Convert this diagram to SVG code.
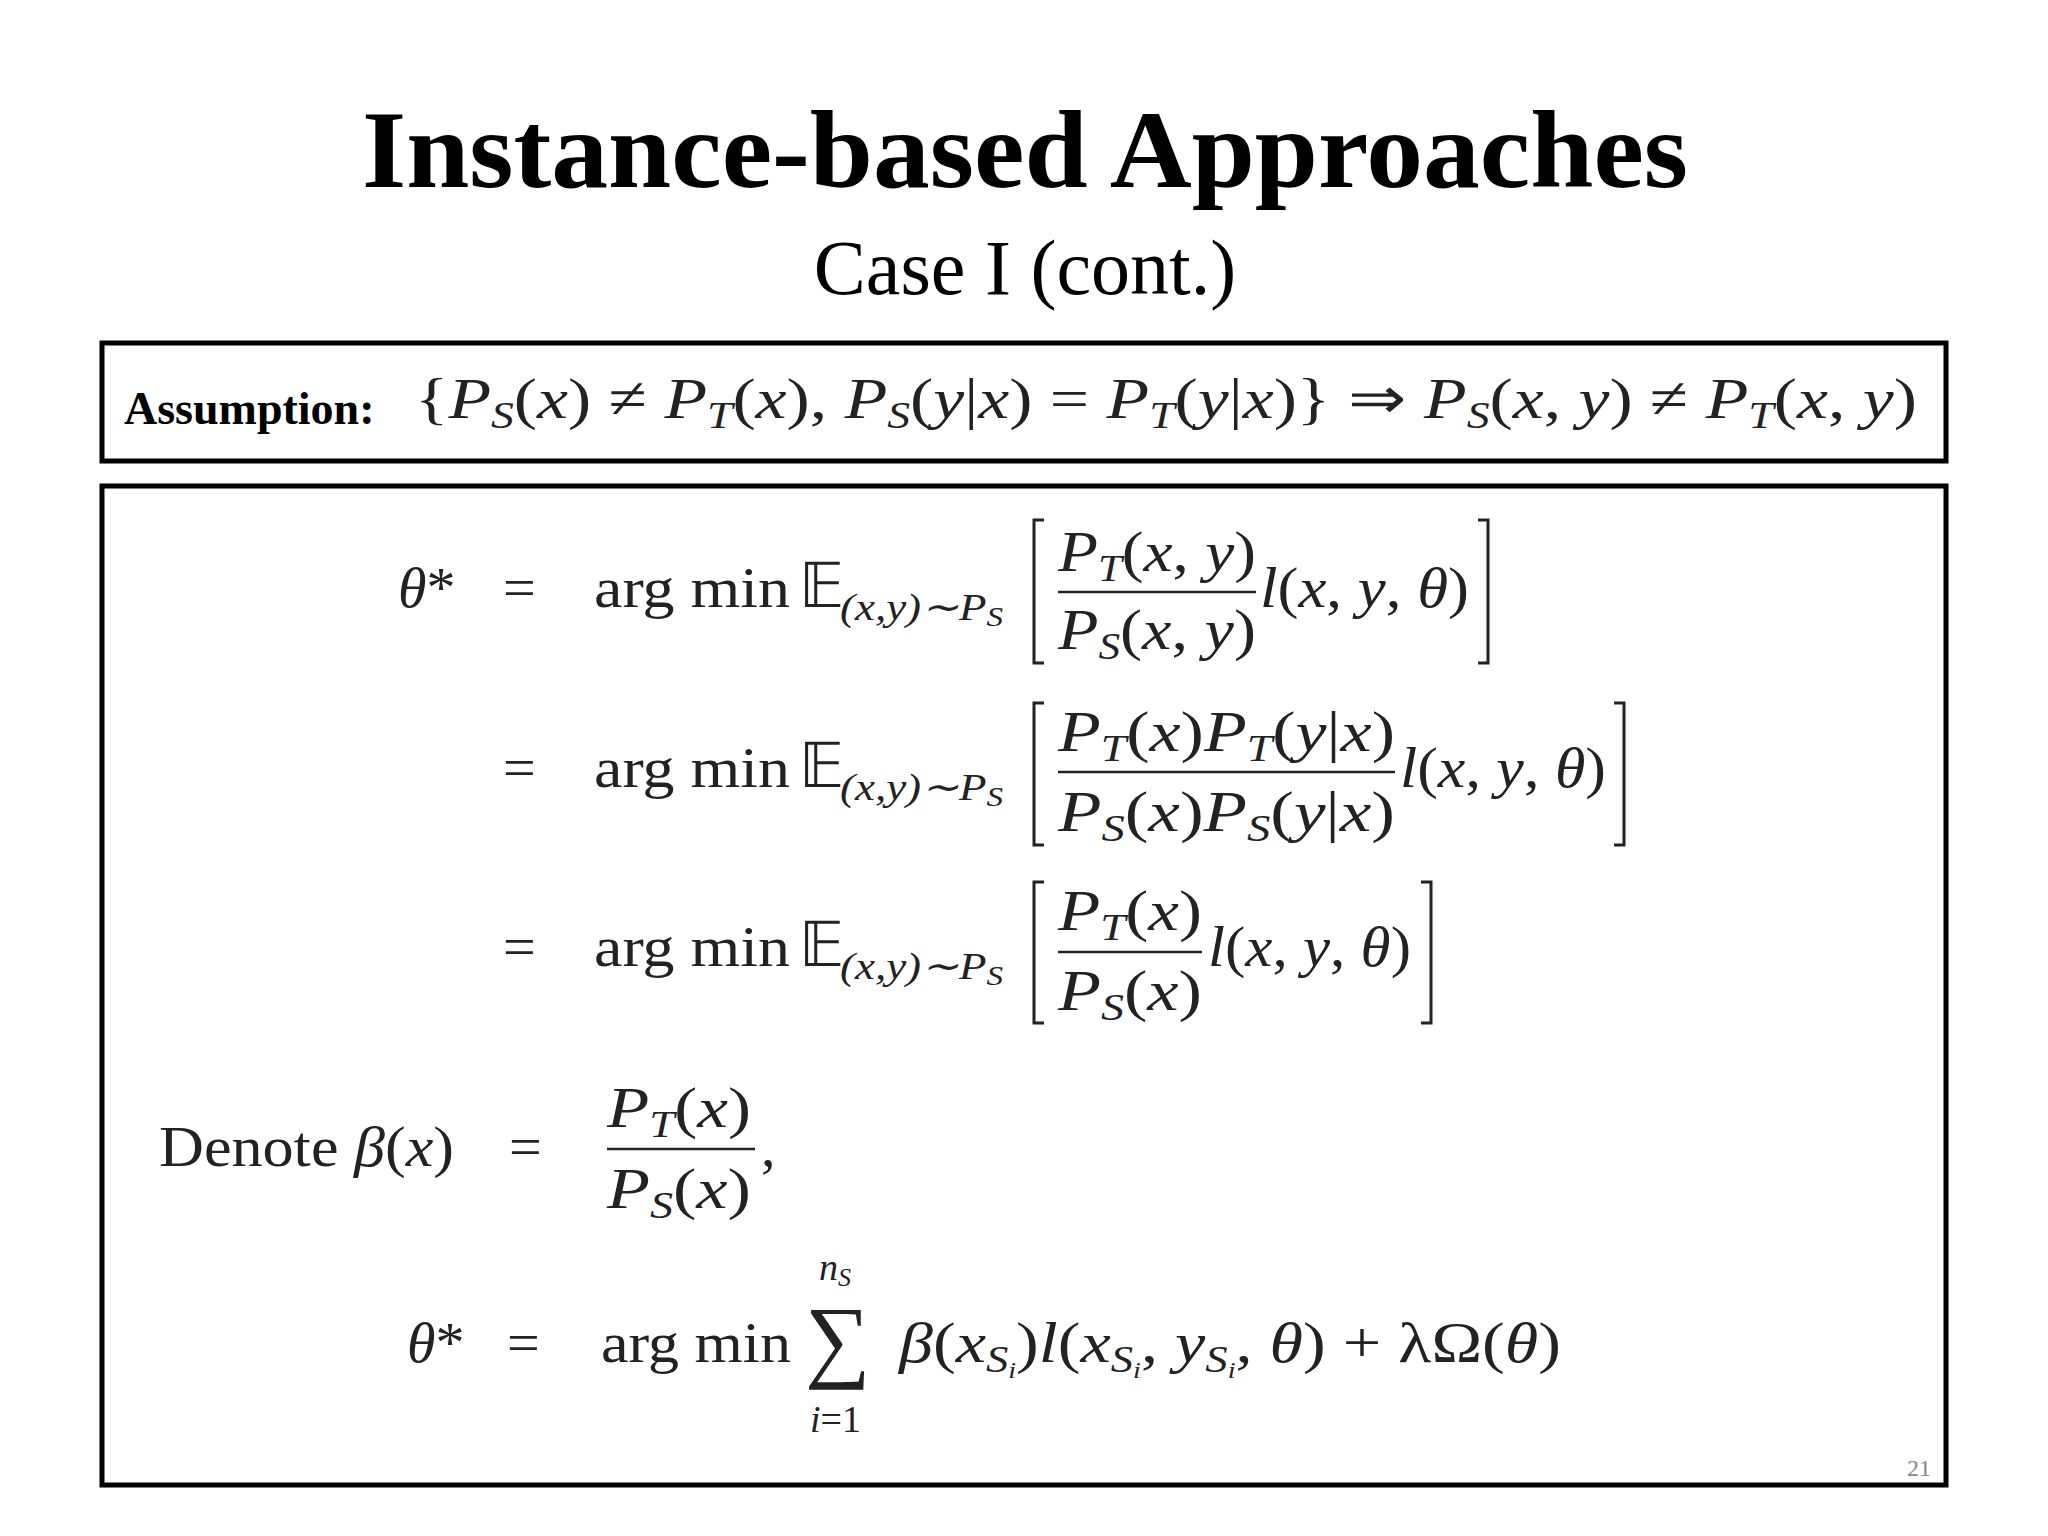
<svg xmlns="http://www.w3.org/2000/svg" width="2048" height="1536" viewBox="0 0 2048 1536">
<style>
.t{font-family:"Liberation Serif","Times New Roman",serif;fill:#000}
.m{font-family:"Liberation Serif","Times New Roman",serif;fill:#222;font-size:58px}
.i{font-style:italic}
.s{font-size:38px}
.box{fill:none;stroke:#000;stroke-width:5}
.ln{stroke:#222;stroke-width:2.5}
.br{fill:none;stroke:#222;stroke-width:3}
</style>
<rect width="2048" height="1536" fill="#fff"/>
<g id="title">
<text class="t" x="1025" y="187" text-anchor="middle" font-size="110" font-weight="bold" textLength="1326" lengthAdjust="spacingAndGlyphs">Instance-based Approaches</text>
<text class="t" x="1025" y="294" text-anchor="middle" font-size="78">Case I (cont.)</text>
</g>
<g id="assumption">
<rect class="box" x="102" y="343" width="1844" height="118"/>
<text class="t" x="124" y="424" font-size="46" font-weight="bold">Assumption:</text>
<text class="m" x="415" y="418" textLength="1502" lengthAdjust="spacingAndGlyphs">{<tspan class="i">P</tspan><tspan class="i s" dy="10">S</tspan><tspan dy="-10">(</tspan><tspan class="i">x</tspan>) ≠ <tspan class="i">P</tspan><tspan class="i s" dy="10">T</tspan><tspan dy="-10">(</tspan><tspan class="i">x</tspan>),  <tspan class="i">P</tspan><tspan class="i s" dy="10">S</tspan><tspan dy="-10">(</tspan><tspan class="i">y</tspan>|<tspan class="i">x</tspan>) = <tspan class="i">P</tspan><tspan class="i s" dy="10">T</tspan><tspan dy="-10">(</tspan><tspan class="i">y</tspan>|<tspan class="i">x</tspan>)} ⇒ <tspan class="i">P</tspan><tspan class="i s" dy="10">S</tspan><tspan dy="-10">(</tspan><tspan class="i">x</tspan>, <tspan class="i">y</tspan>) ≠ <tspan class="i">P</tspan><tspan class="i s" dy="10">T</tspan><tspan dy="-10">(</tspan><tspan class="i">x</tspan>, <tspan class="i">y</tspan>)</text>
</g>
<g id="derivation">
<rect class="box" x="102" y="486" width="1844" height="999"/>
<text class="m" x="398" y="607"><tspan class="i">θ</tspan>*</text>
<text class="m" x="503" y="607">=</text>
<text class="m" x="594" y="607" textLength="196" lengthAdjust="spacingAndGlyphs">arg min</text>
<text class="m" x="799" y="607" style="font-size:62px">𝔼</text>
<text class="m s i" x="840" y="620" textLength="163" lengthAdjust="spacingAndGlyphs">(x,y)∼P<tspan dy="6" style="font-size:28px">S</tspan></text>
<path class="br" d="M1044,520 H1034 V663 H1044"/>
<text class="m" x="1058" y="571" textLength="198" lengthAdjust="spacingAndGlyphs"><tspan class="i">P</tspan><tspan class="i s" dy="10">T</tspan><tspan dy="-10">(</tspan><tspan class="i">x</tspan>, <tspan class="i">y</tspan>)</text>
<line class="ln" x1="1058" y1="592" x2="1256" y2="592"/>
<text class="m" x="1058" y="649" textLength="198" lengthAdjust="spacingAndGlyphs"><tspan class="i">P</tspan><tspan class="i s" dy="10">S</tspan><tspan dy="-10">(</tspan><tspan class="i">x</tspan>, <tspan class="i">y</tspan>)</text>
<text class="m" x="1260" y="607" textLength="209" lengthAdjust="spacingAndGlyphs"><tspan class="i">l</tspan>(<tspan class="i">x</tspan>, <tspan class="i">y</tspan>, <tspan class="i">θ</tspan>)</text>
<path class="br" d="M1478,520 H1488 V663 H1478"/>
<text class="m" x="503" y="787">=</text>
<text class="m" x="594" y="787" textLength="196" lengthAdjust="spacingAndGlyphs">arg min</text>
<text class="m" x="799" y="787" style="font-size:62px">𝔼</text>
<text class="m s i" x="840" y="800" textLength="163" lengthAdjust="spacingAndGlyphs">(x,y)∼P<tspan dy="6" style="font-size:28px">S</tspan></text>
<path class="br" d="M1044,703 H1034 V845 H1044"/>
<text class="m" x="1058" y="751" textLength="337" lengthAdjust="spacingAndGlyphs"><tspan class="i">P</tspan><tspan class="i s" dy="10">T</tspan><tspan dy="-10">(</tspan><tspan class="i">x</tspan>)<tspan class="i">P</tspan><tspan class="i s" dy="10">T</tspan><tspan dy="-10">(</tspan><tspan class="i">y</tspan>|<tspan class="i">x</tspan>)</text>
<line class="ln" x1="1058" y1="772" x2="1395" y2="772"/>
<text class="m" x="1058" y="831" textLength="337" lengthAdjust="spacingAndGlyphs"><tspan class="i">P</tspan><tspan class="i s" dy="10">S</tspan><tspan dy="-10">(</tspan><tspan class="i">x</tspan>)<tspan class="i">P</tspan><tspan class="i s" dy="10">S</tspan><tspan dy="-10">(</tspan><tspan class="i">y</tspan>|<tspan class="i">x</tspan>)</text>
<text class="m" x="1400" y="787" textLength="206" lengthAdjust="spacingAndGlyphs"><tspan class="i">l</tspan>(<tspan class="i">x</tspan>, <tspan class="i">y</tspan>, <tspan class="i">θ</tspan>)</text>
<path class="br" d="M1614,703 H1624 V845 H1614"/>
<text class="m" x="503" y="966">=</text>
<text class="m" x="594" y="966" textLength="196" lengthAdjust="spacingAndGlyphs">arg min</text>
<text class="m" x="799" y="966" style="font-size:62px">𝔼</text>
<text class="m s i" x="840" y="979" textLength="163" lengthAdjust="spacingAndGlyphs">(x,y)∼P<tspan dy="6" style="font-size:28px">S</tspan></text>
<path class="br" d="M1044,882 H1034 V1023 H1044"/>
<text class="m" x="1058" y="930" textLength="144" lengthAdjust="spacingAndGlyphs"><tspan class="i">P</tspan><tspan class="i s" dy="10">T</tspan><tspan dy="-10">(</tspan><tspan class="i">x</tspan>)</text>
<line class="ln" x1="1058" y1="952" x2="1202" y2="952"/>
<text class="m" x="1058" y="1010" textLength="144" lengthAdjust="spacingAndGlyphs"><tspan class="i">P</tspan><tspan class="i s" dy="10">S</tspan><tspan dy="-10">(</tspan><tspan class="i">x</tspan>)</text>
<text class="m" x="1208" y="966" textLength="203" lengthAdjust="spacingAndGlyphs"><tspan class="i">l</tspan>(<tspan class="i">x</tspan>, <tspan class="i">y</tspan>, <tspan class="i">θ</tspan>)</text>
<path class="br" d="M1421,882 H1431 V1023 H1421"/>
<text class="m" x="159" y="1166" textLength="295" lengthAdjust="spacingAndGlyphs">Denote <tspan class="i">β</tspan>(<tspan class="i">x</tspan>)</text>
<text class="m" x="509" y="1166">=</text>
<text class="m" x="607" y="1127" textLength="144" lengthAdjust="spacingAndGlyphs"><tspan class="i">P</tspan><tspan class="i s" dy="10">T</tspan><tspan dy="-10">(</tspan><tspan class="i">x</tspan>)</text>
<line class="ln" x1="607" y1="1149" x2="755" y2="1149"/>
<text class="m" x="607" y="1208" textLength="144" lengthAdjust="spacingAndGlyphs"><tspan class="i">P</tspan><tspan class="i s" dy="10">S</tspan><tspan dy="-10">(</tspan><tspan class="i">x</tspan>)</text>
<text class="m" x="761" y="1166">,</text>
<text class="m" x="407" y="1362"><tspan class="i">θ</tspan>*</text>
<text class="m" x="507" y="1362">=</text>
<text class="m" x="601" y="1362" textLength="190" lengthAdjust="spacingAndGlyphs">arg min</text>
<text class="m" x="805" y="1370" style="font-size:92px">∑</text>
<text class="m s i" x="819" y="1280">n<tspan dy="6" style="font-size:26px">S</tspan></text>
<text class="m s" x="810" y="1432"><tspan class="i">i</tspan>=1</text>
<text class="m" x="899" y="1362" textLength="662" lengthAdjust="spacingAndGlyphs"><tspan class="i">β</tspan>(<tspan class="i">x</tspan><tspan class="i s" dy="10">S<tspan dy="6" style="font-size:24px">i</tspan></tspan><tspan dy="-16">)</tspan><tspan class="i">l</tspan>(<tspan class="i">x</tspan><tspan class="i s" dy="10">S<tspan dy="6" style="font-size:24px">i</tspan></tspan><tspan dy="-16">, </tspan><tspan class="i">y</tspan><tspan class="i s" dy="10">S<tspan dy="6" style="font-size:24px">i</tspan></tspan><tspan dy="-16">, </tspan><tspan class="i">θ</tspan>) + <tspan>λΩ(</tspan><tspan class="i">θ</tspan>)</text>
<text class="t" x="1907" y="1476" font-size="24" style="fill:#888">21</text>
</g>
</svg>
